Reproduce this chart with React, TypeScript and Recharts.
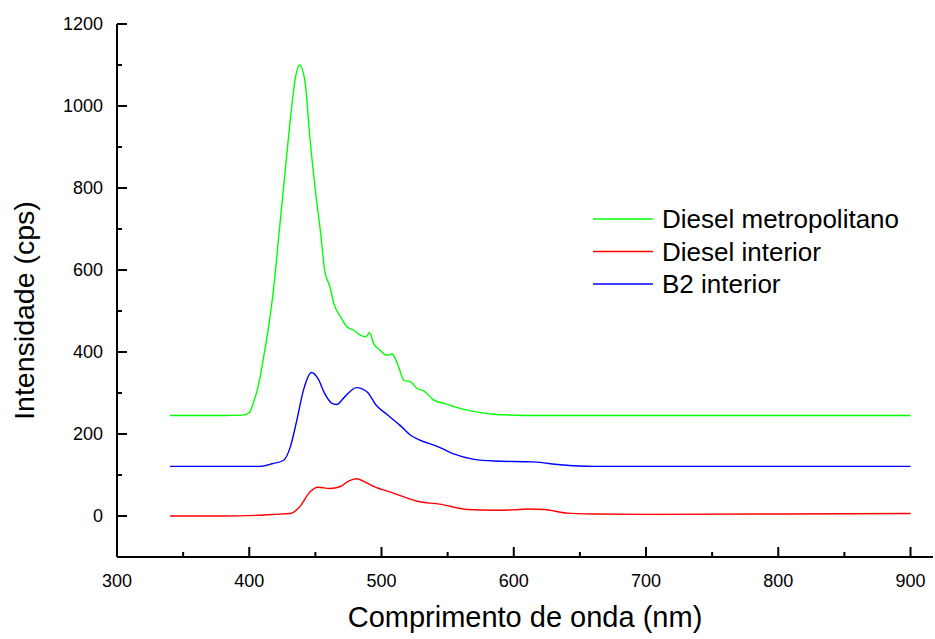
import { Legend, Line, LineChart, XAxis, YAxis } from 'recharts';

// wavelength (nm) and intensity (cps)
const metroNm = [340, 380, 395, 400, 403, 407, 411, 415, 418, 423, 427, 431, 435, 438, 442, 446, 450, 454, 457, 461, 464, 469, 474, 479, 484, 488, 491, 494, 499, 504, 508, 512, 517, 522, 527, 532, 539, 549, 560, 572, 585, 600, 610, 700, 800, 900];
const metroCps = [245, 245, 246, 252, 275, 320, 390, 470, 543, 705, 836, 966, 1071, 1100, 1063, 917, 794, 689, 600, 559, 518, 486, 461, 453, 441, 437, 447, 421, 404, 392, 395, 372, 331, 327, 311, 305, 284, 273, 262, 254, 248, 246, 245, 245, 245, 245];

const interiorNm = [340, 380, 408, 420, 431, 438, 446, 452, 461, 469, 475, 481, 488, 494, 509, 527, 544, 565, 585, 600, 610, 623, 640, 660, 700, 800, 900];
const interiorCps = [0, 0, 2, 4, 6, 22, 59, 70, 67, 72, 85, 91, 82, 72, 56, 36, 29, 16, 14, 15, 17, 16, 7, 5, 4, 5, 6];

const b2Nm = [340, 380, 408, 418, 426, 431, 436, 441, 447, 452, 457, 462, 466, 472, 481, 489, 496, 504, 514, 522, 529, 542, 554, 570, 585, 615, 635, 660, 700, 800, 900];
const b2Cps = [121, 121, 121, 128, 136, 168, 234, 307, 350, 335, 299, 276, 272, 290, 313, 303, 270, 248, 221, 197, 185, 170, 152, 138, 134, 132, 125, 121, 121, 121, 121];

const seriesNames = ['Diesel metropolitano', 'Diesel interior', 'B2 interior'];
const seriesColors = ['#00ff00', '#ff0000', '#0000ff'];

const xTicks = [300, 350, 400, 450, 500, 550, 600, 650, 700, 750, 800, 850, 900];
const yTicks = [0, 100, 200, 300, 400, 500, 600, 700, 800, 900, 1000, 1100, 1200];

const FONT = '"Liberation Sans", Arial, sans-serif';

const toPoints = (nm: number[], cps: number[]) => nm.map((x, i) => ({ nm: x, cps: cps[i] }));
const seriesData = [toPoints(metroNm, metroCps), toPoints(interiorNm, interiorCps), toPoints(b2Nm, b2Cps)];

function LeftTick({ x, y, payload }: any) {
  const major = payload.value % 200 === 0;
  return (
    <g>
      <line x1={x} x2={x + (major ? 10 : 5)} y1={y} y2={y} stroke="#000" strokeWidth={2} />
      {major && (
        <text x={x - 14} y={y} dy="0.35em" textAnchor="end" fontSize={18} fontFamily={FONT} fill="#000">
          {payload.value}
        </text>
      )}
    </g>
  );
}

function BottomTick({ x, y, payload }: any) {
  const major = payload.value % 100 === 0;
  return (
    <g>
      <line x1={x} x2={x} y1={y} y2={y - (major ? 10 : 5)} stroke="#000" strokeWidth={2} />
      {major && (
        <text x={x} y={y + 30} textAnchor="middle" fontSize={18} fontFamily={FONT} fill="#000">
          {payload.value}
        </text>
      )}
    </g>
  );
}

function RightTick({ x, y, payload }: any) {
  const major = payload.value % 200 === 0;
  return <line x1={x} x2={x - (major ? 6 : 3)} y1={y} y2={y} stroke="#bbb" strokeWidth={1} />;
}

function YTitle({ viewBox }: any) {
  const cx = 24;
  const cy = viewBox.y + viewBox.height / 2 + 20;
  return (
    <text x={cx} y={cy} transform={`rotate(-90 ${cx} ${cy})`} dy="0.35em" textAnchor="middle" fontSize={28.5} fontFamily={FONT} fill="#000">
      Intensidade (cps)
    </text>
  );
}

function XTitle({ viewBox }: any) {
  return (
    <text x={viewBox.x + viewBox.width / 2} y={627} textAnchor="middle" fontSize={29} fontFamily={FONT} fill="#000">
      Comprimento de onda (nm)
    </text>
  );
}

function LegendBox() {
  return (
    <svg width={340} height={110} style={{ display: 'block' }}>
      {seriesNames.map((name, i) => {
        const rowY = 24 + i * 32.5;
        return (
          <g key={name}>
            <line x1={13} x2={73} y1={rowY} y2={rowY} stroke={seriesColors[i]} strokeWidth={1.4} />
            <text x={82} y={rowY + 9} fontSize={26} fontFamily={FONT} fill="#000">
              {name}
            </text>
          </g>
        );
      })}
    </svg>
  );
}

export default function App() {
  return (
    <div style={{ position: 'absolute', left: 0, top: 0, background: '#fff' }}>
      <LineChart width={935} height={639} margin={{ top: 24, right: 2, bottom: 0, left: 0 }}>
        <XAxis
          dataKey="nm"
          type="number"
          domain={[300, 917]}
          ticks={xTicks}
          interval={0}
          height={82}
          tickLine={false}
          tickSize={0}
          tickMargin={0}
          tick={<BottomTick />}
          axisLine={{ stroke: '#000', strokeWidth: 2 }}
          label={<XTitle />}
        />
        <XAxis xAxisId="top" orientation="top" type="number" domain={[300, 917]} height={0} tick={false} tickLine={false} axisLine={{ stroke: '#000', strokeWidth: 2 }} />
        <YAxis
          type="number"
          domain={[-100, 1200]}
          ticks={yTicks}
          interval={0}
          width={117}
          tickLine={false}
          tickSize={0}
          tickMargin={0}
          tick={<LeftTick />}
          axisLine={{ stroke: '#000', strokeWidth: 2 }}
          label={<YTitle />}
        />
        <YAxis
          yAxisId="right"
          orientation="right"
          type="number"
          domain={[-100, 1200]}
          ticks={yTicks}
          interval={0}
          width={0}
          tickLine={false}
          tickSize={0}
          tickMargin={0}
          tick={<RightTick />}
          axisLine={{ stroke: '#999', strokeWidth: 1 }}
        />
        <Legend layout="vertical" align="center" verticalAlign="middle" wrapperStyle={{ left: 580, top: 195, width: 340 }} content={<LegendBox />} />
        {seriesData.map((data, i) => (
          <Line
            key={seriesNames[i]}
            data={data}
            dataKey="cps"
            name={seriesNames[i]}
            type="monotone"
            stroke={seriesColors[i]}
            strokeWidth={1.4}
            dot={false}
            activeDot={false}
            isAnimationActive={false}
          />
        ))}
      </LineChart>
    </div>
  );
}
